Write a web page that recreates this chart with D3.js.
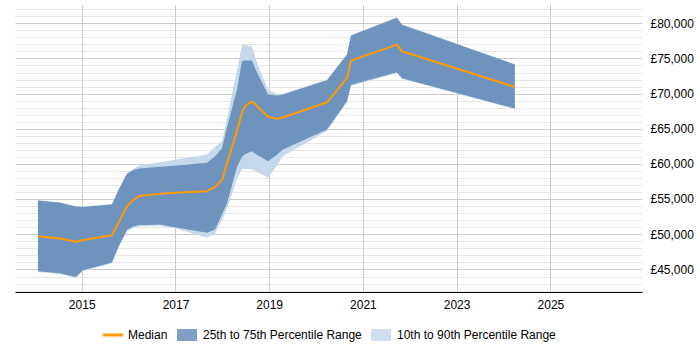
<!DOCTYPE html>
<html>
<head>
<meta charset="utf-8">
<script src="https://cdn.jsdelivr.net/npm/d3@7"></script>
<style>
  body { margin: 0; background: #fff; }
  text { font-family: "Liberation Sans", Arial, sans-serif; }
</style>
</head>
<body>
<div id="chart"></div>
<script>
// sample dates (x positions of the series)
var dates = ["2014-01-25", "2014-07-15", "2014-11-16", "2015-01-10", "2015-08-25", "2015-10-15",
             "2015-12-20", "2016-02-05", "2016-03-23", "2016-09-02", "2016-12-28", "2017-09-03",
             "2017-11-05", "2017-12-29", "2018-02-08", "2018-04-25", "2018-06-03", "2018-06-26",
             "2018-08-20", "2018-09-28", "2018-12-23", "2019-03-03", "2019-04-18", "2020-03-27",
             "2020-08-30", "2020-09-30", "2021-09-23", "2021-11-01", "2024-03-30"];

var p10 = [44650, 44350, 43800, 44750, 45900, 48100, 50400, 50950, 51150, 51200, 50850, 49500,
           50100, 52000, 53700, 57900, 59200, 59300, 59200, 58900, 58030, 59800, 61100, 64700,
           68800, 71100, 72950, 72100, 67800];
var p25 = [44760, 44450, 43950, 44900, 46000, 48300, 50600, 51100, 51300, 51400, 51000, 50220,
           50680, 52800, 54480, 59600, 61000, 61400, 61800, 61300, 60400, 61300, 62050, 64890,
           68920, 71260, 73040, 72200, 67880];
var median = [49730, 49400, 48940, 49200, 49870, 51640, 54000, 54850, 55450, 55750, 55900, 56130,
              56750, 57700, 60160, 64700, 67300, 68200, 68920, 68250, 66700, 66410, 66600, 68770,
              72240, 74700, 76970, 76020, 70960];
var p75 = [54800, 54480, 53950, 53900, 54250, 56300, 58600, 59100, 59350, 59600, 59750, 60160,
           61100, 62200, 65300, 70580, 74600, 74700, 74700, 73000, 69870, 69730, 69870, 71900,
           75550, 78250, 80770, 79810, 74130];
var p90 = [54850, 54550, 54000, 53950, 54300, 56400, 58700, 59300, 59780, 60250, 60600, 61340,
           62400, 63200, 66600, 73300, 76900, 76950, 76730, 74400, 70580, 69870, 69950, 72000,
           75650, 78300, 80850, 79850, 74180];

var xTickYears = [2015, 2017, 2019, 2021, 2023, 2025];
var yTickValues = [45000, 50000, 55000, 60000, 65000, 70000, 75000, 80000];

var legendItems = ["Median", "25th to 75th Percentile Range", "10th to 90th Percentile Range"];

var width = 700, height = 350;
var plot = { left: 15.5, right: 642.5, top: 5, bottom: 292 };

var parseDate = d3.timeParse("%Y-%m-%d");
var data = dates.map(function(d, i) {
    return { date: parseDate(d), p10: p10[i], p25: p25[i], med: median[i], p75: p75[i], p90: p90[i] };
});

var x = d3.scaleTime()
    .domain([parseDate("2013-08-03"), parseDate("2026-12-20")])
    .range([plot.left, plot.right]);

var y = d3.scaleLinear()
    .domain([41800, 82600])
    .range([plot.bottom, plot.top]);

var svg = d3.select("#chart")
    .append("svg")
    .attr("width", width)
    .attr("height", height);

// horizontal grid: minor every 1000, major every 5000
var minor = d3.range(42000, 82001, 1000);
svg.append("g")
    .selectAll("line")
    .data(minor)
    .enter()
    .append("line")
    .attr("x1", plot.left)
    .attr("x2", plot.right)
    .attr("y1", function(d) { return Math.round(y(d)) + 0.5; })
    .attr("y2", function(d) { return Math.round(y(d)) + 0.5; })
    .attr("stroke", function(d) { return d % 5000 === 0 ? "#cccccc" : "#e6e6e6"; })
    .attr("stroke-width", 1);

// vertical grid at tick years
svg.append("g")
    .selectAll("line")
    .data(xTickYears)
    .enter()
    .append("line")
    .attr("x1", function(d) { return Math.round(x(new Date(d, 0, 1))) + 0.5; })
    .attr("x2", function(d) { return Math.round(x(new Date(d, 0, 1))) + 0.5; })
    .attr("y1", plot.top)
    .attr("y2", plot.bottom)
    .attr("stroke", "#cccccc")
    .attr("stroke-width", 1);

// bands
var band90 = d3.area()
    .x(function(d) { return x(d.date); })
    .y0(function(d) { return y(d.p10); })
    .y1(function(d) { return y(d.p90); });

var band75 = d3.area()
    .x(function(d) { return x(d.date); })
    .y0(function(d) { return y(d.p25); })
    .y1(function(d) { return y(d.p75); });

var medLine = d3.line()
    .x(function(d) { return x(d.date); })
    .y(function(d) { return y(d.med); });

svg.append("path")
    .datum(data)
    .attr("fill", "#c6d8ec")
    .attr("d", band90);

svg.append("path")
    .datum(data)
    .attr("fill", "#6e94bd")
    .attr("d", band75);

svg.append("path")
    .datum(data)
    .attr("fill", "none")
    .attr("stroke", "#ff9900")
    .attr("stroke-width", 2)
    .attr("stroke-linejoin", "round")
    .attr("d", medLine);

// x axis
var xAxis = d3.axisBottom(x)
    .tickValues(xTickYears.map(function(d) { return new Date(d, 0, 1); }))
    .tickFormat(d3.timeFormat("%Y"))
    .tickSize(0)
    .tickPadding(8);

var gx = svg.append("g")
    .attr("transform", "translate(0," + plot.bottom + ")")
    .call(xAxis);
gx.select(".domain").attr("stroke", "#000").attr("d", "M" + plot.left + ",0.5H" + plot.right);
gx.selectAll("text").style("font-size", "12px").attr("fill", "#000");

// y axis on the right
var yAxis = d3.axisRight(y)
    .tickValues(yTickValues)
    .tickFormat(function(d) { return "£" + d3.format(",")(d); })
    .tickSize(0)
    .tickPadding(8);

var gy = svg.append("g")
    .attr("transform", "translate(" + plot.right + ",0)")
    .call(yAxis);
gy.select(".domain").remove();
gy.selectAll("text").style("font-size", "12px").attr("fill", "#000");

// legend
var legend = svg.append("g").attr("transform", "translate(0,335)");

legend.append("line")
    .attr("x1", 103).attr("x2", 123)
    .attr("y1", 0).attr("y2", 0)
    .attr("stroke", "#ff9900")
    .attr("stroke-width", 3);
legend.append("text").attr("x", 128).attr("y", 3.5).style("font-size", "12px").text(legendItems[0]);

legend.append("rect")
    .attr("x", 177).attr("y", -6).attr("width", 20).attr("height", 12)
    .attr("fill", "#819fc2");
legend.append("text").attr("x", 203).attr("y", 3.5).style("font-size", "12px").text(legendItems[1]);

legend.append("rect")
    .attr("x", 371).attr("y", -6).attr("width", 20).attr("height", 12)
    .attr("fill", "#cddff0");
legend.append("text").attr("x", 397).attr("y", 3.5).style("font-size", "12px").text(legendItems[2]);
</script>
</body>
</html>
